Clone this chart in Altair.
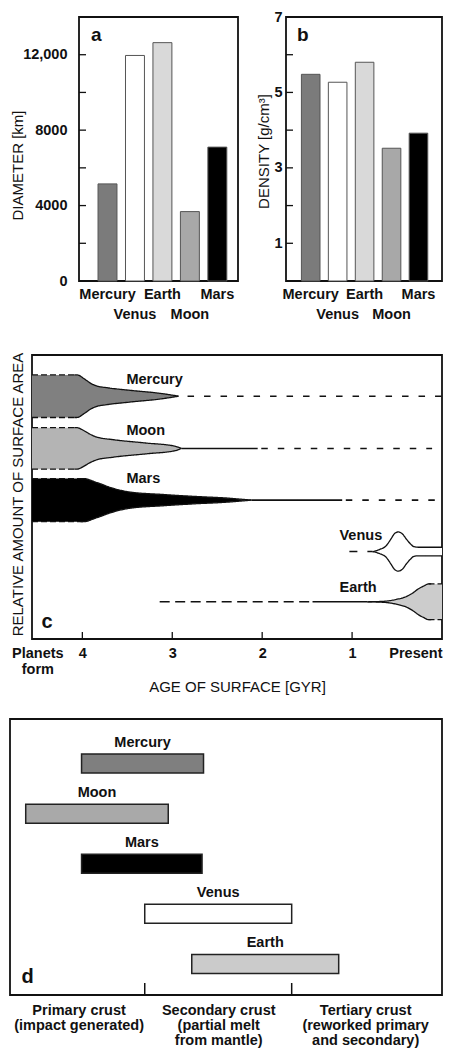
import altair as alt
import pandas as pd

FONT = "Liberation Sans"
INK = "#111111"

# ---------------- panels a & b ----------------
planets = ["Mercury", "Venus", "Earth", "Moon", "Mars"]
diameter_km = [5150, 11960, 12640, 3680, 7100]
density_gcm3 = [5.48, 5.27, 5.80, 3.52, 3.92]
bar_fill = ["#7b7b7b", "#ffffff", "#d9d9d9", "#a8a8a8", "#000000"]
diameter_tick_values = [2000, 4000, 6000, 8000, 10000, 12000]
diameter_label_values = [0, 4000, 8000, 12000]
density_tick_values = [1, 2, 3, 4, 5, 6]
density_label_values = [1, 3, 5, 7]

# ---------------- panel c ----------------
c_planets = ["Mercury", "Moon", "Mars", "Venus", "Earth"]
c_fill = ["#808080", "#b4b4b4", "#000000", "#ffffff", "#cccccc"]
c_center = [85.5, 67.1, 48.9, 30.8, 13.1]
mercury_age = [4.56, 4.09, 4.06, 3.97, 3.90, 3.84, 3.73, 3.48, 3.11, 2.93]
mercury_hw = [7.5, 7.5, 7.5, 5.9, 4.4, 3.6, 3.0, 2.1, 0.9, 0.0]
moon_age = [4.56, 4.09, 4.06, 3.99, 3.92, 3.84, 3.66, 3.29, 2.97, 2.90]
moon_hw = [7.3, 7.3, 7.3, 6.4, 5.1, 4.0, 3.1, 1.9, 0.8, 0.0]
mars_age = [4.56, 4.02, 3.99, 3.84, 3.66, 3.48, 3.11, 2.75, 2.38, 2.12]
mars_hw = [7.6, 7.6, 7.6, 6.2, 4.2, 2.9, 2.0, 1.3, 0.7, 0.0]
venus_age = [0.772, 0.696, 0.622, 0.568, 0.531, 0.488, 0.440, 0.397, 0.348, 0.312, 0.257, 0.0]
venus_hw = [0.0, 0.7, 2.0, 4.4, 6.2, 6.9, 6.2, 4.4, 2.6, 1.7, 1.5, 1.5]
earth_age = [0.83, 0.65, 0.50, 0.40, 0.33, 0.26, 0.20, 0.15, 0.12, 0.0]
earth_hw = [0.0, 0.18, 0.9, 1.8, 3.0, 4.6, 5.6, 6.3, 6.3, 6.3]
c_profiles = [(mercury_age, mercury_hw), (moon_age, moon_hw), (mars_age, mars_hw),
              (venus_age, venus_hw), (earth_age, earth_hw)]
c_edge_dash = [("left", 2), ("left", 2), ("left", 2), ("none", 0), ("right", 7)]

tail_planet = ["Mercury", "Moon", "Moon", "Mars", "Mars", "Venus", "Earth", "Earth"]
tail_from = [2.83, 2.90, 2.01, 2.12, 1.07, 1.03, 3.14, 1.44]
tail_to = [0.0, 2.05, 0.11, 1.11, 0.07, 0.772, 1.44, 0.83]
tail_style = ["short", "solid", "short", "solid", "short", "venus", "long", "solid"]

c_label_age = [3.51, 3.51, 3.51, 1.14, 1.14]
c_label_y = [91.3, 73.4, 56.2, 36.2, 18.0]
age_tick_values = [4, 3, 2, 1]
age_label_values = [4.5, 4, 3, 2, 1, 0]

dash_domain = ["solid", "edge", "short", "long", "venus"]
dash_range = [[1, 0], [6, 3], [6.5, 10], [10, 5.5], [8, 10]]

# ---------------- panel d ----------------
d_planets = ["Mercury", "Moon", "Mars", "Venus", "Earth"]
d_fill = ["#7f7f7f", "#a9a9a9", "#000000", "#ffffff", "#cbcbcb"]
d_start = [0.57, 0.19, 0.57, 1.00, 1.32]
d_end = [1.40, 1.16, 1.39, 2.00, 2.32]
d_row = [5, 4, 3, 2, 1]
d_tick_values = [1, 2]
d_label_values = [0.55, 1.5, 2.5]


def spacer(w, h):
    return alt.Chart(pd.DataFrame({"v": [0.5]})).mark_point(opacity=0, size=1).encode(
        x=alt.X("v:Q", axis=None, scale=alt.Scale(domain=[0, 1])),
        y=alt.Y("v:Q", axis=None, scale=alt.Scale(domain=[0, 1])),
    ).properties(width=w, height=h, view=alt.ViewBackground(stroke="transparent"))


def letter(t, x, y, size=19):
    return alt.Chart(pd.DataFrame({"t": [t]})).mark_text(
        font=FONT, fontSize=size, fontWeight="bold", color=INK, align="left", baseline="middle"
    ).encode(text="t:N", x=alt.value(x), y=alt.value(y))


bar_label_expr = "datum.value == 'Venus' || datum.value == 'Moon' ? ['', datum.label] : datum.label"

dfa = pd.DataFrame({"planet": planets, "diameter": diameter_km, "density": density_gcm3, "fill": bar_fill})


def xband(align):
    return alt.X("planet:N", sort=planets,
                 scale=alt.Scale(paddingInner=0.31, paddingOuter=0.55, align=align),
                 axis=alt.Axis(title=None, labelAngle=0, ticks=False, domain=False, labelPadding=6,
                               labelLineHeight=20, labelExpr=bar_label_expr))


H_AB = 264
bars_a = alt.Chart(dfa).mark_bar(stroke="#555555", strokeWidth=1).encode(
    x=xband(0.63),
    y=alt.Y("diameter:Q", scale=alt.Scale(domain=[0, 14000], nice=False),
            axis=alt.Axis(values=diameter_label_values, ticks=False, domain=False, labelPadding=12,
                          labelExpr="datum.value >= 10000 ? format(datum.value, ',') : format(datum.value, 'd')",
                          title="DIAMETER [km]", titleX=-62, titleY=148, titleBaseline="middle")),
    color=alt.Color("fill:N", scale=None),
)
ticks_a = alt.Chart(pd.DataFrame({"diameter": diameter_tick_values})).mark_rule(color=INK, strokeWidth=1.3).encode(
    y=alt.Y("diameter:Q", title="DIAMETER [km]"), x=alt.value(0), x2=alt.value(7))
panel_a = alt.layer(bars_a, ticks_a, letter("a", 12, 17.5)).properties(width=159, height=H_AB)

bars_b = alt.Chart(dfa).mark_bar(stroke="#555555", strokeWidth=1).encode(
    x=xband(0.52),
    y=alt.Y("density:Q", scale=alt.Scale(domain=[0, 7], nice=False),
            axis=alt.Axis(values=density_label_values, ticks=False, domain=False, labelPadding=4,
                          title="DENSITY [g/cm³]", titleX=-23, titleY=134, titleBaseline="middle")),
    color=alt.Color("fill:N", scale=None),
)
ticks_b = alt.Chart(pd.DataFrame({"density": density_tick_values})).mark_rule(color=INK, strokeWidth=1.3).encode(
    y=alt.Y("density:Q", title="DENSITY [g/cm³]"), x=alt.value(0), x2=alt.value(7))
panel_b = alt.layer(bars_b, ticks_b, letter("b", 11, 17.5)).properties(width=156, height=H_AB)

# ---------------- panel c build ----------------
area_rows, edge_rows = [], []
for name, fill, cen, (ages, hws), (side, k) in zip(c_planets, c_fill, c_center, c_profiles, c_edge_dash):
    n = len(ages)
    for a, h in zip(ages, hws):
        area_rows.append({"planet": name, "fill": fill, "age": a, "y": cen + h, "y_lo": cen - h})
    if side == "left":
        segs = [("edge", range(0, k + 1)), ("solid", range(k - 1, n))]
    elif side == "right":
        segs = [("solid", range(0, k + 2)), ("edge", range(k, n))]
    else:
        segs = [("solid", range(0, n))]
    for edge, sgn in (("top", 1), ("bot", -1)):
        for style, idx in segs:
            for i in idx:
                edge_rows.append({"key": f"{name}-{edge}-{style}", "style": style,
                                  "age": ages[i], "y": cen + sgn * hws[i]})
dfc_area = pd.DataFrame(area_rows)
dfc_edge = pd.DataFrame(edge_rows)
center_of = dict(zip(c_planets, c_center))
dfc_tail = pd.DataFrame({"planet": tail_planet, "age": tail_from, "age_end": tail_to,
                         "y": [center_of[p] for p in tail_planet], "style": tail_style})
dfc_lab = pd.DataFrame({"planet": c_planets, "age": c_label_age, "y": c_label_y})

W_C, H_C = 410, 284
x_age = alt.X("age:Q", scale=alt.Scale(domain=[4.56, 0], nice=False, zero=False),
              axis=alt.Axis(values=age_label_values, ticks=False, domain=False, labelPadding=7,
                            labelLineHeight=16.7, labelFlush=1, labelOverlap=False,
                            labelExpr="datum.value == 4.5 ? ['Planets', 'form'] : datum.value == 0 ? 'Present' : '' + datum.value",
                            title="AGE OF SURFACE [GYR]", titlePadding=3))
y_rel = alt.Y("y:Q", scale=alt.Scale(domain=[0, 100], nice=False),
              axis=alt.Axis(labels=False, ticks=False, domain=False, title="RELATIVE AMOUNT OF SURFACE AREA",
                            titleX=-14.5, titleY=139, titleBaseline="middle"))
dash_scale = alt.Scale(domain=dash_domain, range=dash_range)

area_c = alt.Chart(dfc_area).mark_area(interpolate="monotone", clip=True).encode(
    x=x_age, y=y_rel, y2="y_lo:Q", color=alt.Color("fill:N", scale=None), detail="planet:N")
edge_c = alt.Chart(dfc_edge).mark_line(interpolate="monotone", clip=True, color=INK, strokeWidth=1.3).encode(
    x=alt.X("age:Q", title="AGE OF SURFACE [GYR]"), y=alt.Y("y:Q", title="RELATIVE AMOUNT OF SURFACE AREA"),
    detail="key:N", strokeDash=alt.StrokeDash("style:N", scale=dash_scale, legend=None))
tail_c = alt.Chart(dfc_tail).mark_rule(color=INK, strokeWidth=1.6, clip=True).encode(
    x=alt.X("age:Q", title="AGE OF SURFACE [GYR]"), x2="age_end:Q",
    y=alt.Y("y:Q", title="RELATIVE AMOUNT OF SURFACE AREA"),
    strokeDash=alt.StrokeDash("style:N", scale=dash_scale, legend=None))
ticks_c = alt.Chart(pd.DataFrame({"age": age_tick_values})).mark_rule(color=INK, strokeWidth=1.3).encode(
    x=alt.X("age:Q", title="AGE OF SURFACE [GYR]"), y=alt.value(H_C - 7), y2=alt.value(H_C))
labels_c = alt.Chart(dfc_lab).mark_text(font=FONT, fontSize=14.5, fontWeight="bold", color=INK,
                                        align="left", baseline="middle").encode(
    x=alt.X("age:Q", title="AGE OF SURFACE [GYR]"), y=alt.Y("y:Q", title="RELATIVE AMOUNT OF SURFACE AREA"),
    text="planet:N")
panel_c = alt.layer(area_c, edge_c, tail_c, ticks_c, labels_c, letter("c", 9.5, 267, 20)).properties(
    width=W_C, height=H_C)

# ---------------- panel d build ----------------
dfd = pd.DataFrame({"planet": d_planets, "fill": d_fill, "start": d_start, "end": d_end, "row": d_row})
dfd["lo"] = dfd["row"] - 0.19
dfd["hi"] = dfd["row"] + 0.19
dfd["mid"] = (dfd["start"] + dfd["end"]) / 2

W_D, H_D = 432, 276
crust_expr = ("datum.value < 1 ? ['Primary crust', '(impact generated)'] : "
              "datum.value < 2 ? ['Secondary crust', '(partial melt', 'from mantle)'] : "
              "['Tertiary crust', '(reworked primary', 'and secondary)']")
x_crust = alt.X("start:Q", scale=alt.Scale(domain=[0.083, 3.023], nice=False, zero=False),
                axis=alt.Axis(values=d_label_values, ticks=False, domain=False, title="", labelPadding=8,
                              labelLineHeight=15, labelFontSize=14.5, labelOverlap=False, labelFlush=False,
                              labelExpr=crust_expr))
y_row = alt.Y("lo:Q", scale=alt.Scale(domain=[0.38, 5.89], nice=False, zero=False), axis=None)
rect_d = alt.Chart(dfd).mark_rect(stroke="#222222", strokeWidth=1.5).encode(
    x=x_crust, x2="end:Q", y=y_row, y2="hi:Q", color=alt.Color("fill:N", scale=None))
text_d = alt.Chart(dfd).mark_text(font=FONT, fontSize=14.5, fontWeight="bold", color=INK, dy=-21,
                                  baseline="middle").encode(
    x=alt.X("mid:Q", title=""), y=alt.Y("row:Q", axis=None), text="planet:N")
ticks_d = alt.Chart(pd.DataFrame({"start": d_tick_values})).mark_rule(color=INK, strokeWidth=1.5).encode(
    x=alt.X("start:Q", title=""), y=alt.value(H_D - 12), y2=alt.value(H_D))
panel_d = alt.layer(rect_d, text_d, ticks_d, letter("d", 11.5, 257.5, 20)).properties(width=W_D, height=H_D)

# ---------------- assemble ----------------
row1 = alt.hconcat(spacer(21, H_AB), panel_a, panel_b, spacing=48, bounds="flush")
row2 = alt.hconcat(spacer(22, H_C), panel_c, spacing=0, bounds="flush")
lower = alt.vconcat(row2, panel_d, spacing=22)
chart = alt.vconcat(row1, lower, spacing=28).properties(
    padding={"top": 0, "left": 1, "right": 0, "bottom": 0}
).configure_axis(
    labelFont=FONT, titleFont=FONT, labelFontSize=14.5, labelFontWeight="bold", labelColor=INK,
    titleFontSize=15, titleFontWeight="normal", titleColor=INK, grid=False
).configure_view(stroke=INK, strokeWidth=1.8)

chart.save("out.html", embed_options={"renderer": "svg", "actions": False})
